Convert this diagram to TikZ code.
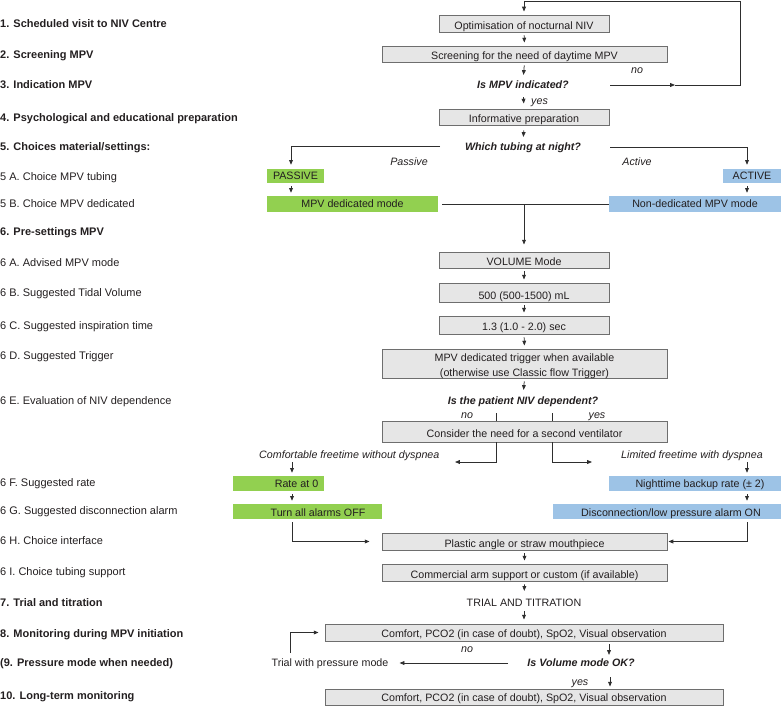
\documentclass[tikz,border=0pt]{standalone}
\usepackage{fontspec}
\setmainfont{Liberation Sans}
\usetikzlibrary{arrows.meta}
\definecolor{txt}{HTML}{231F20}
\definecolor{boxfill}{HTML}{E6E6E6}
\definecolor{boxline}{HTML}{6E6E6E}
\definecolor{linec}{HTML}{2E2E2E}
\definecolor{grn}{HTML}{92D050}
\definecolor{blu}{HTML}{9DC3E6}
\tikzset{
  flow/.style={inner sep=0pt, text=txt, font=\fontsize{10.7}{12.5}\selectfont, text height=7.8pt, text depth=0pt},
  gbox/.style={flow, draw=boxline, fill=boxfill, line width=0.9pt, text height=11.8pt},
  greenbox/.style={flow, fill=grn},
  bluebox/.style={flow, fill=blu},
  quest/.style={flow, font=\fontsize{10.7}{12.5}\selectfont\bfseries\itshape},
  note/.style={flow, font=\fontsize{10.7}{12.5}\selectfont\itshape},
  lab/.style={inner sep=0pt, anchor=west, text=txt, font=\fontsize{11}{13}\selectfont, text height=7.9pt, text depth=0pt},
  labb/.style={lab, font=\fontsize{11}{13}\selectfont\bfseries},
  conn/.style={draw=linec, line width=0.75pt},
  tip/.style={conn, -{Triangle[length=4.8pt,width=3.8pt]}},
  arr/.style={tip, shorten >=3pt, shorten <=3pt},
}
\begin{document}
\begin{tikzpicture}[x=1pt,y=-1pt]
\useasboundingbox (0,0) rectangle (781,706);

% ---------- left column labels ----------
\node[labb] (l1)  at (0,24)  {1. Scheduled visit to NIV Centre};
\node[labb] (l2)  at (0,55)  {2. Screening MPV};
\node[labb] (l3)  at (0,85)  {3. Indication MPV};
\node[labb] (l4)  at (0,118) {4. Psychological and educational preparation};
\node[labb] (l5)  at (0,147) {5. Choices material/settings:};
\node[lab]  (l5a) at (0,177) {5 A. Choice MPV tubing};
\node[lab]  (l5b) at (0,204) {5 B. Choice MPV dedicated};
\node[labb] (l6)  at (0,232) {6. Pre-settings MPV};
\node[lab]  (l6a) at (0,263) {6 A. Advised MPV mode};
\node[lab]  (l6b) at (0,293) {6 B. Suggested Tidal Volume};
\node[lab]  (l6c) at (0,326) {6 C. Suggested inspiration time};
\node[lab]  (l6d) at (0,356) {6 D. Suggested Trigger};
\node[lab]  (l6e) at (0,401) {6 E. Evaluation of NIV dependence};
\node[lab]  (l6f) at (0,483) {6 F. Suggested rate};
\node[lab]  (l6g) at (0,511) {6 G. Suggested disconnection alarm};
\node[lab]  (l6h) at (0,541) {6 H. Choice interface};
\node[lab]  (l6i) at (0,572) {6 I. Choice tubing support};
\node[labb] (l7)  at (0,603) {7. Trial and titration};
\node[labb] (l8)  at (0,634) {8. Monitoring during MPV initiation};
\node[labb] (l9)  at (0,663) {(9. Pressure mode when needed)};
\node[labb] (l10) at (0,696) {10. Long-term monitoring};

% ---------- flow nodes ----------
\node[gbox, minimum width=170pt, minimum height=17pt] (opt) at (524,23.5) {Optimisation of nocturnal NIV};
\node[gbox, minimum width=285pt, minimum height=16pt] (scr) at (524.5,54) {Screening for the need of daytime MPV};
\node[quest] (q1) at (523,85) {Is MPV indicated?};
\node[gbox, minimum width=170pt, minimum height=16pt] (info) at (524,117) {Informative preparation};
\node[quest] (q2) at (523,147) {Which tubing at night?};
\node[greenbox, minimum width=57pt, minimum height=14pt] (passive) at (295.5,176) {PASSIVE};
\node[bluebox, minimum width=58pt, minimum height=14pt] (active) at (752,176) {ACTIVE};
\node[greenbox, minimum width=171pt, minimum height=16pt] (mpvded) at (352.5,204) {MPV dedicated mode};
\node[bluebox, minimum width=172pt, minimum height=16pt] (nonded) at (695,204) {Non-dedicated MPV mode};
\node[gbox, minimum width=170pt, minimum height=16pt] (vol) at (524,260) {VOLUME Mode};
\node[gbox, minimum width=170pt, minimum height=19pt, text height=13.5pt] (tv) at (524,292.5) {500 (500-1500) mL};
\node[gbox, minimum width=170pt, minimum height=18pt] (ti) at (524,325) {1.3 (1.0 - 2.0) sec};
\node[gbox, minimum width=285pt, minimum height=29pt, align=center, text height=26.8pt, text depth=0pt, font=\fontsize{10.7}{15.5}\selectfont] (trig) at (524.5,363.5) {MPV dedicated trigger when available\\(otherwise use Classic flow Trigger)};
\node[quest] (q3) at (523,401) {Is the patient NIV dependent?};
\node[gbox, minimum width=285pt, minimum height=21pt, text height=12.8pt] (second) at (524.5,431.5) {Consider the need for a second ventilator};
\node[greenbox, minimum width=91pt, minimum height=15pt] (rate0) at (278.5,483.5) {\hspace*{36pt}Rate at 0};
\node[greenbox, minimum width=149pt, minimum height=15pt, text height=9.5pt] (alarmoff) at (307.5,511.5) {\hspace*{21pt}Turn all alarms OFF};
\node[bluebox, minimum width=172pt, minimum height=15pt] (backup) at (695,483.5) {\hspace*{10pt}Nighttime backup rate (\char"00B1{} 2)};
\node[bluebox, minimum width=228pt, minimum height=15pt, text height=9.5pt] (alarmon) at (667,511.5) {\hspace*{8pt}Disconnection/low pressure alarm ON};
\node[gbox, minimum width=285pt, minimum height=17pt, text height=12.8pt] (plastic) at (524.5,541.5) {Plastic angle or straw mouthpiece};
\node[gbox, minimum width=285pt, minimum height=17pt, text height=12.8pt] (arm) at (524.5,572.5) {Commercial arm support or custom (if available)};
\node[flow] (trial) at (524,603) {TRIAL AND TITRATION};
\node[gbox, minimum width=398pt, minimum height=17pt, text height=10.8pt] (comf1) at (524,632.5) {Comfort, PCO2 (in case of doubt), SpO2, Visual observation};
\node[quest] (q4) at (581,663) {Is Volume mode OK?};
\node[flow] (pm) at (330,663) {Trial with pressure mode};
\node[gbox, minimum width=398pt, minimum height=16pt, text height=9.8pt] (comf2) at (524,697) {Comfort, PCO2 (in case of doubt), SpO2, Visual observation};

% ---------- branch labels ----------
\node[note] (no1) at (637,70) {no};
\node[note, anchor=west] (yes1) at (531,101) {yes};
\node[note] (pas) at (409,162) {Passive};
\node[note] (act) at (637,162) {Active};
\node[note] (no2) at (467,415) {no};
\node[note] (yes2) at (597,415) {yes};
\node[note, anchor=west] (cft) at (259,455) {Comfortable freetime without dyspnea};
\node[note, anchor=west] (lft) at (621,455) {Limited freetime with dyspnea};
\node[note] (no3) at (467,649) {no};
\node[note] (yes3) at (580,682) {yes};

% ---------- connectors ----------
% loop back when MPV not indicated
\coordinate (loopA) at (610,85);
\coordinate (loopM) at (675,85);
\coordinate (loopR) at (740,85);
\coordinate (loopT) at (740,1);
\coordinate (loopL) at (524,1);
\draw[tip] (loopA) -- (loopM);
\draw[conn] (loopM) -- (loopR) -- (loopT) -- (loopL);
\draw[arr, shorten <=0pt] (loopL) -- (opt.north);

\draw[arr] (opt.south) -- (scr.north);
\draw[arr, shorten >=6pt] (scr.south) -- (q1.north);
\draw[arr, shorten <=8pt, shorten >=5pt] (q1.south) -- (info.north);
\draw[arr, shorten <=5pt, shorten >=6pt] (info.south) -- (q2.north);

% tubing choice
\coordinate (q2L) at (440,146);
\coordinate (q2R) at (610,147);
\draw[arr, shorten <=0pt, shorten >=4pt] (q2L) -| ([xshift=-4.5pt]passive.north);
\draw[arr, shorten <=0pt, shorten >=4pt] (q2R) -| ([xshift=-5pt]active.north);
\draw[arr] ([xshift=-4.5pt]passive.south) -- ([xshift=-4.5pt]passive.south |- mpvded.north);
\draw[arr] ([xshift=-5pt]active.south) -- ([xshift=-5pt]active.south |- nonded.north);

% merge to volume mode
\draw[conn, shorten <=4pt] (mpvded.east) -- (nonded.west);
\draw[arr, shorten <=0pt, shorten >=7pt] (vol.north |- mpvded.east) -- (vol.north);
\draw[arr] (vol.south) -- (tv.north);
\draw[arr] (tv.south) -- (ti.north);
\draw[arr] (ti.south) -- (trig.north);
\draw[arr, shorten >=7pt] (trig.south) -- (q3.north);

% dependence
\coordinate (noL) at (496,413);
\coordinate (yesR) at (552,413);
\draw[conn] (noL) -- (noL |- second.north);
\draw[conn] (yesR) -- (yesR |- second.north);
\coordinate (cL) at (455,462);
\coordinate (cR) at (592,462);
\draw[tip] (second.south -| noL) |- (cL);
\draw[tip] (second.south -| yesR) |- (cR);

\coordinate (fL) at (292,462);
\coordinate (fR) at (747,462);
\draw[arr, shorten <=0pt] (fL) -- (fL |- rate0.north);
\draw[arr, shorten <=0pt] (fR) -- (fR |- backup.north);
\draw[arr] (fL |- rate0.south) -- (fL |- alarmoff.north);
\draw[arr] (fR |- backup.south) -- (fR |- alarmon.north);
\draw[arr, shorten >=12pt] (fL |- alarmoff.south) |- (plastic.west);
\draw[arr, shorten >=1pt] (fR |- alarmon.south) |- (plastic.east);

% interface to trial
\draw[arr] (plastic.south) -- (arm.north);
\draw[arr, shorten >=8pt] (arm.south) -- (trial.north);
\draw[arr, shorten <=4pt, shorten >=4pt] (trial.south) -- (comf1.north);
\draw[arr, shorten >=4pt] ([xshift=85pt]comf1.south) -- ([xshift=85pt]comf1.south |- q4.north);

% pressure mode loop
\coordinate (nA) at (508,663);
\draw[tip, shorten >=11pt] (nA) -- (pm.east);
\coordinate (pUp) at (290,653);
\draw[arr, shorten <=0pt, shorten >=6pt] (pUp) |- (comf1.west);

% yes to long-term monitoring
\draw[arr, shorten <=10pt, shorten >=2pt] ([xshift=86pt]comf2.north |- q4.south) -- ([xshift=86pt]comf2.north);
\end{tikzpicture}
\end{document}
